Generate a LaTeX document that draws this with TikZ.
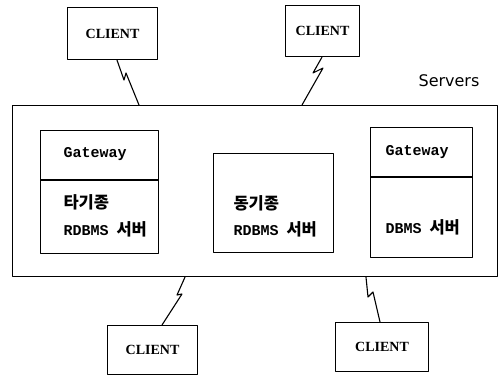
\documentclass[tikz,border=0pt]{standalone}
\usepackage{fontspec}
\setmainfont{Liberation Serif}
\newfontfamily\korfam{Noto Sans CJK KR}
\newfontfamily\monofam{Liberation Mono}
\newfontfamily\sansfam{DejaVu Sans}
\newcommand\latmono{\monofam\bfseries\fontsize{15}{18}\selectfont}
\newcommand\kortext{\korfam\bfseries\fontsize{16.5}{20}\selectfont}
\usetikzlibrary{calc}
\begin{document}
\begin{tikzpicture}[x=1pt,y=-1pt,line width=1.1pt,line join=round,
  box/.style={draw,inner sep=0pt,anchor=north west},
  client/.style={box,minimum width=90pt,minimum height=52pt,font=\bfseries\fontsize{14}{17}\selectfont},
  txt/.style={inner sep=0pt,anchor=west}]
\useasboundingbox (0,0) rectangle (503,376);
% clients
\node[client] (c1) at (67,7) {CLIENT};
\node[client,minimum width=74pt,minimum height=51pt] (c2) at (285,5) {CLIENT};
\node[client,minimum width=90pt,minimum height=49pt] (c3) at (107,325) {CLIENT};
\node[client,minimum width=93pt,minimum height=49pt] (c4) at (335,322) {CLIENT};
% server frame
\node[box,minimum width=485pt,minimum height=171pt] (srv) at (12,105) {};
\node[inner sep=0pt,font=\sansfam\fontsize{16}{19}\selectfont] (srvlbl) at (449,81) {Servers};
% inner boxes
\node[box,minimum width=118pt,minimum height=123pt] (lb) at (40,130) {};
\node[box,minimum width=120pt,minimum height=99pt] (mb) at (213,153) {};
\node[box,minimum width=102pt,minimum height=130pt] (rb) at (370,127) {};
\draw ($(lb.north west)+(0,50)$) -- ($(lb.north east)+(0,50)$);
\draw ($(rb.north west)+(0,50)$) -- ($(rb.north east)+(0,50)$);
% texts
\node[txt,font=\latmono] (g1) at (63,154) {Gateway};
\node[txt,font=\kortext] (k1) at (63,202) {타기종};
\node[txt] (r1) at (63,229) {\latmono RDBMS\hspace{8pt}\kortext 서버};
\node[txt,font=\kortext] (k2) at (233,203) {동기종};
\node[txt] (r2) at (233,229) {\latmono RDBMS\hspace{8pt}\kortext 서버};
\node[txt,font=\latmono] (g2) at (385,152) {Gateway};
\node[txt] (r3) at (385,227) {\latmono DBMS\hspace{8pt}\kortext 서버};
% lightning links
\draw ($(c1.south west)+(50,0)$) -- (124,80) -- (126,73) -- ($(srv.north west)+(127,0)$);
\draw ($(c2.south west)+(37,0)$) -- (313,73) -- (323,68) -- ($(srv.north west)+(290,0)$);
\draw ($(srv.south west)+(173,0)$) -- (177,295) -- (182,294) -- ($(c3.north west)+(55,0)$);
\draw ($(srv.south west)+(354,0)$) -- (368,297) -- (373,292) -- ($(c4.north west)+(45,0)$);
\end{tikzpicture}
\end{document}
